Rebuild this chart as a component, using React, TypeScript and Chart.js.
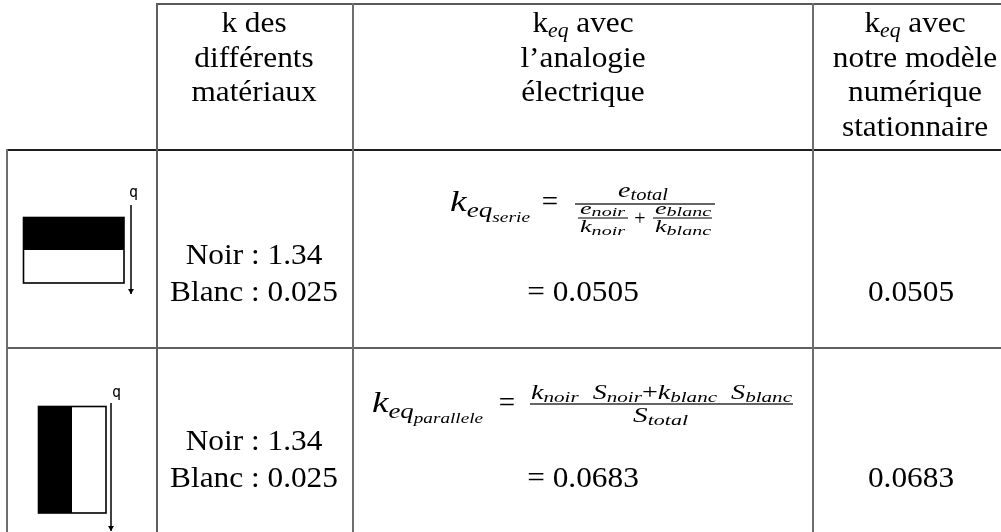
import React, { useEffect, useRef } from "react";
import { Chart, registerables } from "chart.js";

Chart.register(...registerables);

// ---------- data ----------
const headerMaterials = ["k des", "différents", "matériaux"];
const headerAnalogy = ["avec", "l’analogie", "électrique"];
const headerModel = ["avec", "notre modèle", "numérique", "stationnaire"];
const materials = ["Noir", "Blanc"];
const kMaterials = [1.34, 0.025];
const assemblies = ["serie", "parallele"];
const keqAnalogy = [0.0505, 0.0683];
const keqModel = [0.0505, 0.0683];

// ---------- layout ----------
const W = 1001;
const H = 532;
const SERIF = '"Liberation Serif", "Times New Roman", serif';
const TXT_SX = 1.08;

type Run = { t: string; s: number; it?: boolean; dy?: number };

function fontOf(r: Run) {
  return `${r.it ? "italic " : ""}${r.s}px ${SERIF}`;
}
function natWidth(ctx: CanvasRenderingContext2D, runs: Run[]) {
  let w = 0;
  for (const r of runs) {
    ctx.font = fontOf(r);
    w += ctx.measureText(r.t).width;
  }
  return w;
}
function drawRunsAt(ctx: CanvasRenderingContext2D, runs: Run[], x: number, y: number, sx: number) {
  ctx.save();
  ctx.translate(x, y);
  ctx.scale(sx, 1);
  let cx = 0;
  for (const r of runs) {
    ctx.font = fontOf(r);
    ctx.fillText(r.t, cx, r.dy || 0);
    cx += ctx.measureText(r.t).width;
  }
  ctx.restore();
}
function drawCentered(ctx: CanvasRenderingContext2D, runs: Run[], cx: number, y: number, sx = TXT_SX) {
  const w = natWidth(ctx, runs) * sx;
  drawRunsAt(ctx, runs, cx - w / 2, y, sx);
}
function drawFit(ctx: CanvasRenderingContext2D, runs: Run[], x0: number, x1: number, y: number) {
  const w = natWidth(ctx, runs);
  drawRunsAt(ctx, runs, x0, y, (x1 - x0) / w);
}
const T = (t: string, s = 29): Run => ({ t, s });
const I = (t: string, s: number, dy = 0): Run => ({ t, s, it: true, dy });

const tablePlugin = {
  id: "tablePlugin",
  afterDraw(chart: any) {
    const ctx: CanvasRenderingContext2D = chart.ctx;
    const xs = chart.scales.x;
    const ys = chart.scales.y;
    const X = (v: number) => xs.getPixelForValue(v);
    const Y = (v: number) => ys.getPixelForValue(v);
    ctx.save();
    ctx.textAlign = "left";
    ctx.textBaseline = "alphabetic";
    ctx.fillStyle = "#000";

    // grid lines
    const hline = (x0: number, x1: number, y: number, c: string) => {
      ctx.fillStyle = c;
      ctx.fillRect(X(x0), Y(y) - 1, X(x1) - X(x0), 2);
    };
    const vline = (x: number, y0: number, y1: number, c: string) => {
      ctx.fillStyle = c;
      ctx.fillRect(X(x) - 1, Y(y0), 2, Y(y1) - Y(y0));
    };
    hline(156, W, 4, "#5a5a5a");
    hline(7, W, 150, "#1e1e1e");
    hline(7, W, 348, "#606060");
    vline(7, 149, H, "#6e6e6e");
    vline(157, 3, H, "#5e5e5e");
    vline(353, 3, H, "#6e6e6e");
    vline(813, 3, H, "#6e6e6e");

    ctx.fillStyle = "#000";
    // headers
    const base = [32, 67, 101, 136];
    headerMaterials.forEach((t, i) => drawCentered(ctx, [T(t)], X(254), Y(base[i])));
    headerAnalogy.forEach((t, i) => {
      const runs = i === 0 ? [T("k"), I("eq", 20, 5), T(" " + t)] : [T(t)];
      drawCentered(ctx, runs, X(583), Y(base[i]));
    });
    headerModel.forEach((t, i) => {
      const runs = i === 0 ? [T("k"), I("eq", 20, 5), T(" " + t)] : [T(t)];
      drawCentered(ctx, runs, X(915), Y(base[i]));
    });

    // material columns
    const matBase = [[264, 301], [450, 487]];
    matBase.forEach((b) => {
      materials.forEach((m, j) => drawCentered(ctx, [T(`${m} : ${kMaterials[j]}`)], X(254), Y(b[j])));
    });

    // results
    const resBase = [301, 487];
    resBase.forEach((b, i) => {
      drawCentered(ctx, [T(`= ${keqAnalogy[i]}`)], X(583), Y(b));
      drawCentered(ctx, [T(String(keqModel[i]))], X(911), Y(b));
    });

    const bar = (x0: number, x1: number, y: number, w = 1.2) => {
      ctx.fillRect(X(x0), Y(y) - w / 2, X(x1) - X(x0), w);
    };

    // formula 1 : serie
    drawFit(ctx, [I("k", 29), I("eq", 21, 6), I(assemblies[0], 15, 11)], X(450), X(530), Y(211));
    drawCentered(ctx, [T("=")], X(550), Y(211), 1);
    bar(575, 715, 204);
    drawFit(ctx, [I("e", 22), I("total", 16, 3)], X(618), X(668), Y(197));
    bar(578, 628, 218, 1);
    drawFit(ctx, [I("e", 17), I(materials[0].toLowerCase(), 13, 2)], X(580), X(625), Y(214));
    drawFit(ctx, [I("k", 17), I(materials[0].toLowerCase(), 13, 3)], X(580), X(625), Y(232));
    drawCentered(ctx, [T("+", 20)], X(640), Y(225), 1);
    bar(653, 712, 218, 1);
    drawFit(ctx, [I("e", 17), I(materials[1].toLowerCase(), 13, 2)], X(655), X(711), Y(214));
    drawFit(ctx, [I("k", 17), I(materials[1].toLowerCase(), 13, 3)], X(655), X(711), Y(232));

    // formula 2 : parallele
    drawFit(ctx, [I("k", 29), I("eq", 21, 6), I(assemblies[1], 15, 11)], X(372), X(483), Y(412));
    drawCentered(ctx, [T("=")], X(507), Y(412), 1);
    bar(530, 793, 404);
    const n0 = materials[0].toLowerCase();
    const n1 = materials[1].toLowerCase();
    drawFit(
      ctx,
      [I("k", 20), I(n0, 15, 3), T("  ", 20), I("S", 20), I(n0, 15, 3), T("+", 20), I("k", 20), I(n1, 15, 3), T("  ", 20), I("S", 20), I(n1, 15, 3)],
      X(531),
      X(792),
      Y(399)
    );
    drawFit(ctx, [I("S", 20), I("total", 15, 3)], X(633), X(688), Y(422));

    // pictograms
    const arrow = (x: number, y0: number, y1: number) => {
      ctx.strokeStyle = "#000";
      ctx.lineWidth = 1.5;
      ctx.beginPath();
      ctx.moveTo(X(x), Y(y0));
      ctx.lineTo(X(x), Y(y1));
      ctx.stroke();
      ctx.beginPath();
      ctx.moveTo(X(x) - 3, Y(y1) - 5);
      ctx.lineTo(X(x), Y(y1));
      ctx.lineTo(X(x) + 3, Y(y1) - 5);
      ctx.closePath();
      ctx.fillStyle = "#000";
      ctx.fill();
    };
    const q = (x: number, y: number) => {
      ctx.fillStyle = "#000";
      ctx.font = `15px "DejaVu Sans Mono", monospace`;
      ctx.fillText("q", X(x), Y(y));
    };
    // serie: black on top
    ctx.fillStyle = "#000";
    ctx.fillRect(X(23), Y(217), X(124) - X(23), Y(250) - Y(217));
    ctx.strokeStyle = "#000";
    ctx.lineWidth = 1.6;
    ctx.strokeRect(X(23.5), Y(217.5), X(124) - X(23.5), Y(283) - Y(217.5));
    arrow(131, 205, 294);
    q(129, 197);
    // parallele: black on left
    ctx.fillStyle = "#000";
    ctx.fillRect(X(38), Y(406), X(72) - X(38), Y(513) - Y(406));
    ctx.strokeStyle = "#000";
    ctx.lineWidth = 1.6;
    ctx.strokeRect(X(38.5), Y(406.5), X(106) - X(38.5), Y(513) - Y(406.5));
    arrow(111, 403, 531);
    q(112, 397);

    ctx.restore();
  },
};

export default function App() {
  const ref = useRef<HTMLCanvasElement | null>(null);
  useEffect(() => {
    if (!ref.current) return;
    const chart = new Chart(ref.current, {
      type: "scatter",
      data: {
        datasets: [
          {
            label: "keq",
            data: keqModel.map((v, i) => ({ x: i, y: v })),
            pointRadius: 0,
            showLine: false,
          },
        ],
      },
      options: {
        animation: false,
        responsive: false,
        devicePixelRatio: 1,
        layout: { padding: 0 },
        events: [],
        plugins: { legend: { display: false }, tooltip: { enabled: false } },
        scales: {
          x: { type: "linear", min: 0, max: W, display: false },
          y: { type: "linear", min: 0, max: H, reverse: true, display: false },
        },
      },
      plugins: [tablePlugin],
    });
    return () => chart.destroy();
  }, []);
  return (
    <div style={{ position: "fixed", left: 0, top: 0, width: W, height: H, background: "#fff" }}>
      <canvas ref={ref} width={W} height={H} style={{ display: "block" }} />
    </div>
  );
}
